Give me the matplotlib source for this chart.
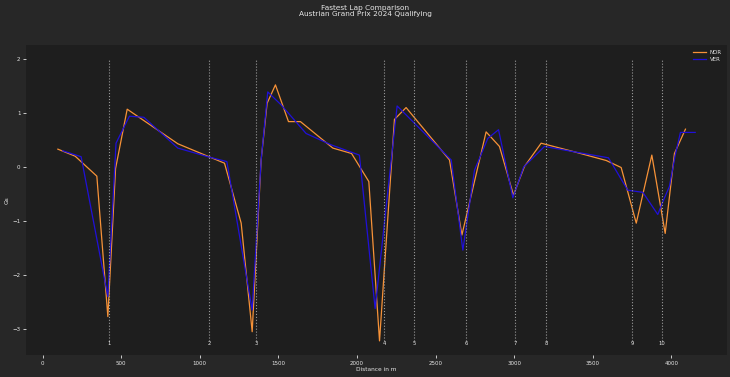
import matplotlib
matplotlib.use("Agg")
import matplotlib.pyplot as plt

# lateral G traces
nor_dist = [97, 207, 345, 415, 464, 538, 860, 1157, 1263, 1333, 1390, 1428, 1481, 1564,
            1640, 1846, 1965, 2075, 2143, 2238, 2312, 2588, 2667, 2821, 2906, 2995, 3065,
            3171, 3383, 3585, 3680, 3776, 3875, 3960, 4019, 4089]
nor_g = [0.33, 0.20, -0.17, -2.77, -0.03, 1.07, 0.43, 0.07, -1.04, -3.05, 0.13, 1.18, 1.52, 0.84,
         0.84, 0.35, 0.25, -0.27, -3.22, 0.88, 1.10, 0.13, -1.26, 0.65, 0.38, -0.52, 0.01,
         0.44, 0.28, 0.12, -0.01, -1.04, 0.22, -1.23, 0.25, 0.70]

ver_dist = [128, 245, 415, 467, 552, 644, 860, 1051, 1172, 1333, 1390, 1432, 1517, 1676,
            1835, 2015, 2115, 2255, 2599, 2673, 2747, 2832, 2900, 2991, 3060, 3192, 3383,
            3599, 3722, 3818, 3913, 3941, 3987, 4024, 4057, 4151]
ver_g = [0.30, 0.19, -2.40, 0.44, 0.94, 0.92, 0.35, 0.19, 0.10, -2.65, 0.13, 1.39, 1.15, 0.62,
         0.41, 0.22, -2.62, 1.13, 0.13, -1.54, -0.06, 0.53, 0.69, -0.57, 0.00, 0.38, 0.28,
         0.17, -0.43, -0.47, -0.88, -0.67, -0.36, 0.22, 0.64, 0.64]

corner_dist = [425, 1061, 1358, 2174, 2361, 2696, 3006, 3203, 3750, 3939]
corner_num = ["1", "2", "3", "4", "5", "6", "7", "8", "9", "10"]

fig_bg = "#272727"
ax_bg = "#1e1e1e"
txt = "#e6e6e6"

fig = plt.figure(figsize=(7.3, 3.77), dpi=100, facecolor=fig_bg)
ax = fig.add_axes([0.0356, 0.0584, 0.9604, 0.8226], facecolor=ax_bg)

ax.plot(nor_dist, nor_g, color="#f79238", linewidth=0.9, label="NOR")
ax.plot(ver_dist, ver_g, color="#2010d8", linewidth=0.9, label="VER")

v_min = min(nor_g + ver_g)
v_max = 2.0
ax.vlines(x=corner_dist, ymin=v_min, ymax=v_max, linestyles="dotted",
          colors="#9a9a9a", linewidth=0.8)
for d, n in zip(corner_dist, corner_num):
    ax.text(d, v_min - 0.05, n, ha="center", va="center", fontsize=3.8, color=txt)

for s in ax.spines.values():
    s.set_visible(False)
ax.tick_params(colors=txt, labelsize=4, length=2, width=0.6, pad=2)
ax.set_yticks([-3, -2, -1, 0, 1, 2])
ax.set_xlabel("Distance in m", fontsize=4.2, color=txt, labelpad=1)
ax.set_ylabel("Gs", fontsize=4.2, color=txt, labelpad=2)

leg = ax.legend(loc="upper right", fontsize=4, frameon=False, handlelength=2.2,
                labelspacing=0.4)
for t in leg.get_texts():
    t.set_color(txt)

fig.suptitle("Fastest Lap Comparison\nAustrian Grand Prix 2024 Qualifying",
             fontsize=5.3, color=txt, y=0.988, va="top", linespacing=1.15)

fig.savefig("out.png", dpi=100, facecolor=fig_bg)
